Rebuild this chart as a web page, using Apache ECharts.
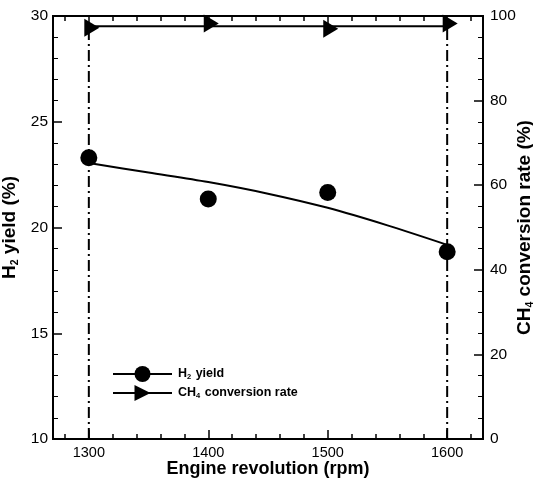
<!DOCTYPE html>
<html>
<head>
<meta charset="utf-8">
<script src="https://cdn.jsdelivr.net/npm/echarts@6/dist/echarts.min.js"></script>
<style>
  html, body { margin: 0; padding: 0; background: #fff; }
  #chart { width: 533px; height: 481px; }
</style>
</head>
<body>
<div id="chart"></div>
<script>
// measured points
var rpm = [1300, 1400, 1500, 1600];
var h2Yield = [23.3, 21.35, 21.65, 18.85];
var ch4Conv = [97.2, 98.2, 97.0, 98.2];

// fitted curves
var fitRpm = [1300, 1350, 1400, 1450, 1500, 1550, 1600];
var h2Fit = [23.05, 22.6, 22.15, 21.6, 20.93, 20.1, 19.18];
var ch4FitRpm = [1300, 1600];
var ch4Fit = [97.6, 97.6];

// dash-dot drop lines
var dropRpm = [1300, 1600];
var dropTop = 97.6;

// ticks
var xLabels = [1300, 1400, 1500, 1600];
var xMinorTicks = [1280, 1300, 1320, 1340, 1360, 1380, 1400, 1420, 1440, 1460, 1480, 1500, 1520, 1540, 1560, 1580, 1600, 1620];

var FONT = 'Liberation Sans, Arial, sans-serif';

function pairs(xs, ys) {
    var out = [];
    for (var i = 0; i < xs.length; i++) out.push([xs[i], ys[i]]);
    return out;
}

function xAxisDef(pos, ticks, len, showLabel) {
    return {
        type: 'value', position: pos, min: 1270, max: 1630,
        axisLine: { show: true, lineStyle: { color: '#000', width: 2 } },
        axisTick: { show: true, inside: true, length: len, customValues: ticks, lineStyle: { color: '#000', width: 1.5 } },
        axisLabel: showLabel ? {
            show: true, customValues: xLabels, margin: 6, color: '#000', fontSize: 14.5, fontFamily: FONT,
            formatter: function (v) { return String(v); }
        } : { show: false },
        splitLine: { show: false }
    };
}

var nameRich = {
    n: { fontSize: 19, fontWeight: 'bold', fontFamily: FONT, color: '#000', lineHeight: 22 },
    s: { fontSize: 10.5, fontWeight: 'bold', fontFamily: FONT, color: '#000', verticalAlign: 'bottom', lineHeight: 12 }
};

var myChart = echarts.init(document.getElementById('chart'));

var bottomMain = xAxisDef('bottom', xMinorTicks, 5, true);
bottomMain.name = 'Engine revolution (rpm)';
bottomMain.nameLocation = 'middle';
bottomMain.nameGap = 21;
bottomMain.nameMoveOverlap = false;
bottomMain.nameTextStyle = { fontSize: 18, fontWeight: 'bold', fontFamily: FONT, color: '#000' };

var dropSeries = dropRpm.map(function (x) {
    return {
        type: 'line', yAxisIndex: 1, symbol: 'none', silent: true,
        data: [[x, 0], [x, dropTop]],
        lineStyle: { color: '#000', width: 2, type: [11, 4, 2, 4] },
        z: 1
    };
});

myChart.setOption({
    animation: false,
    grid: { left: 53, right: 50, top: 16, bottom: 42, outerBoundsMode: 'none' },
    legend: {
        orient: 'vertical', left: 112, top: 366, padding: 0,
        itemWidth: 59, itemHeight: 20, itemGap: 3,
        data: ['H2 yield', 'CH4 conversion rate'],
        lineStyle: { color: '#000', width: 2, opacity: 1 },
        formatter: function (name) {
            return name === 'H2 yield' ? '{n|H}{s|2}{n| yield}' : '{n|CH}{s|4}{n| conversion rate}';
        },
        textStyle: {
            rich: {
                n: { fontSize: 12.5, fontWeight: 'bold', fontFamily: FONT, color: '#000', lineHeight: 14, padding: [0, 0, 0, 1] },
                s: { fontSize: 7.5, fontWeight: 'bold', fontFamily: FONT, color: '#000', verticalAlign: 'bottom', lineHeight: 8 }
            }
        }
    },
    xAxis: [
        bottomMain,
        xAxisDef('bottom', xLabels, 9, false),
        xAxisDef('top', xMinorTicks, 5, false),
        xAxisDef('top', xLabels, 9, false)
    ],
    yAxis: [
        {
            type: 'value', position: 'left', min: 10, max: 30, interval: 5,
            name: '{n|H}{s|2}{n| yield (%)}', nameLocation: 'middle', nameGap: 32, nameRotate: 90,
            nameMoveOverlap: false,
            nameTextStyle: { rich: nameRich },
            axisLine: { show: true, lineStyle: { color: '#000', width: 2 } },
            axisTick: { show: true, inside: true, length: 9, lineStyle: { color: '#000', width: 1.5 } },
            minorTick: { show: true, splitNumber: 5, length: 5, lineStyle: { color: '#000', width: 1 } },
            axisLabel: { margin: 5, color: '#000', fontSize: 15.5, fontFamily: FONT },
            splitLine: { show: false }
        },
        {
            type: 'value', position: 'right', min: 0, max: 100, interval: 20,
            name: '{n|CH}{s|4}{n| conversion rate (%)}', nameLocation: 'middle', nameGap: 31, nameRotate: 90,
            nameMoveOverlap: false,
            nameTextStyle: { rich: nameRich },
            axisLine: { show: true, lineStyle: { color: '#000', width: 2 } },
            axisTick: { show: true, inside: true, length: 9, lineStyle: { color: '#000', width: 1.5 } },
            minorTick: { show: true, splitNumber: 4, length: 5, lineStyle: { color: '#000', width: 1 } },
            axisLabel: { margin: 7, color: '#000', fontSize: 15.5, fontFamily: FONT },
            splitLine: { show: false }
        }
    ],
    series: dropSeries.concat([
        {
            name: 'H2 yield', type: 'line', yAxisIndex: 0,
            data: pairs(rpm, h2Yield),
            symbol: 'circle', symbolSize: 17,
            itemStyle: { color: '#000' },
            lineStyle: { color: '#000', opacity: 0 },
            z: 5
        },
        {
            type: 'line', yAxisIndex: 0, symbol: 'none', smooth: 0.3, silent: true,
            data: pairs(fitRpm, h2Fit),
            lineStyle: { color: '#000', width: 2 },
            z: 3
        },
        {
            name: 'CH4 conversion rate', type: 'line', yAxisIndex: 1,
            data: pairs(rpm, ch4Conv),
            symbol: 'triangle', symbolSize: [18, 15], symbolRotate: -90, symbolOffset: [3, 0],
            itemStyle: { color: '#000' },
            lineStyle: { color: '#000', opacity: 0 },
            z: 5
        },
        {
            type: 'line', yAxisIndex: 1, symbol: 'none', silent: true,
            data: pairs(ch4FitRpm, ch4Fit),
            lineStyle: { color: '#000', width: 2 },
            z: 3
        }
    ])
});
</script>
</body>
</html>
